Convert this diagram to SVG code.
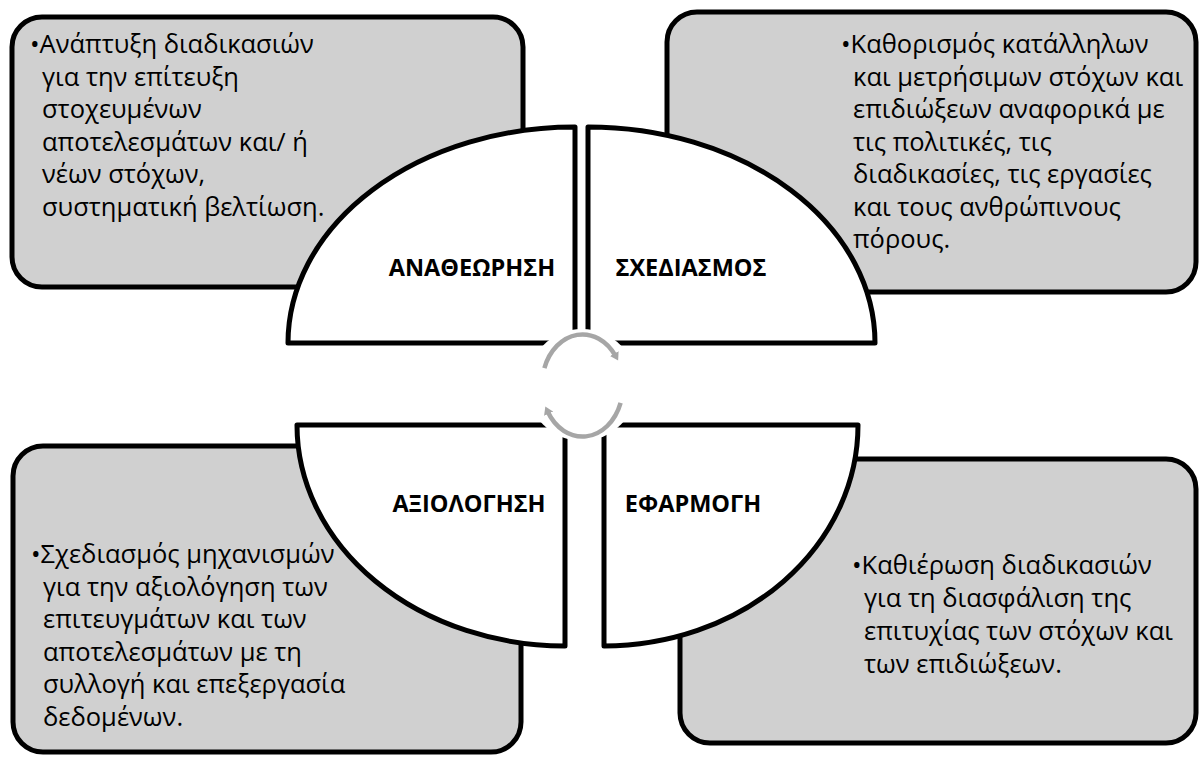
<svg xmlns="http://www.w3.org/2000/svg" width="1204" height="757" viewBox="0 0 1204 757">
<style>
.box{fill:#d0d0d0;stroke:#000;stroke-width:5;}
.quad{fill:#fff;stroke:#000;stroke-width:5;stroke-linejoin:round;}
.body{font-family:"Open Sans","Noto Sans",sans-serif;font-size:25.5px;fill:#000;}
.lbl{font-family:"Open Sans","Noto Sans",sans-serif;font-size:23.5px;font-weight:bold;fill:#000;text-anchor:middle;}
.ring{fill:none;stroke:#a6a6a6;stroke-width:4.5;}
</style>
<defs>
<marker id="ah" markerWidth="10" markerHeight="10" refX="3" refY="5" orient="auto" markerUnits="userSpaceOnUse">
<path d="M0,0 L8,5 L0,10 Z" fill="#a6a6a6"/>
</marker>
</defs>
<rect width="1204" height="757" fill="#fff"/>

<g id="box-tl">
<rect class="box" x="12" y="17" width="511" height="270" rx="30"/>
<text class="body"><tspan x="30" y="53">•Ανάπτυξη διαδικασιών</tspan><tspan x="42" y="85.5">για την επίτευξη</tspan><tspan x="42" y="118">στοχευμένων</tspan><tspan x="42" y="150.5">αποτελεσμάτων και/ ή</tspan><tspan x="42" y="183">νέων στόχων,</tspan><tspan x="42" y="215.5">συστηματική βελτίωση.</tspan></text>
</g>
<g id="box-tr">
<rect class="box" x="667" y="12" width="529" height="280" rx="30"/>
<text class="body"><tspan x="841" y="53">•Καθορισμός κατάλληλων</tspan><tspan x="853" y="85.5">και μετρήσιμων στόχων και</tspan><tspan x="853" y="118">επιδιώξεων αναφορικά με</tspan><tspan x="853" y="150.5">τις πολιτικές, τις</tspan><tspan x="853" y="183">διαδικασίες, τις εργασίες</tspan><tspan x="853" y="215.5">και τους ανθρώπινους</tspan><tspan x="853" y="248">πόρους.</tspan></text>
</g>
<g id="box-bl">
<rect class="box" x="13" y="446" width="508" height="306" rx="30"/>
<text class="body"><tspan x="31" y="563">•Σχεδιασμός μηχανισμών</tspan><tspan x="43" y="595.5">για την αξιολόγηση των</tspan><tspan x="43" y="628">επιτευγμάτων και των</tspan><tspan x="43" y="660.5">αποτελεσμάτων με τη</tspan><tspan x="43" y="693">συλλογή και επεξεργασία</tspan><tspan x="43" y="725.5">δεδομένων.</tspan></text>
</g>
<g id="box-br">
<rect class="box" x="680" y="459" width="516" height="284" rx="30"/>
<text class="body"><tspan x="852" y="574">•Καθιέρωση διαδικασιών</tspan><tspan x="864" y="607">για τη διασφάλιση της</tspan><tspan x="864" y="640">επιτυχίας των στόχων και</tspan><tspan x="864" y="673">των επιδιώξεων.</tspan></text>
</g>

<g id="quad-review">
<path class="quad" d="M575,127 L575,343 L288,343 A287,216 0 0 1 575,127 Z"/>
<text class="lbl" x="472" y="276">ΑΝΑΘΕΩΡΗΣΗ</text>
</g>
<g id="quad-plan">
<path class="quad" d="M588,127 A287,216 0 0 1 875,343 L588,343 Z"/>
<text class="lbl" x="691" y="276">ΣΧΕΔΙΑΣΜΟΣ</text>
</g>
<g id="quad-eval">
<path class="quad" d="M297,425 L565,425 L565,646 A268,221 0 0 1 297,425 Z"/>
<text class="lbl" x="469" y="512">ΑΞΙΟΛΟΓΗΣΗ</text>
</g>
<g id="quad-impl">
<path class="quad" d="M604,425 L858,425 A254,221 0 0 1 604,646 Z"/>
<text class="lbl" x="693" y="512">ΕΦΑΡΜΟΓΗ</text>
</g>

<g id="connectors">
<ellipse cx="582" cy="385" rx="55" ry="56" fill="#fff"/>
<path class="ring" d="M544.4,368.1 A40.5,51 0 0 1 615.7,356.2" marker-end="url(#ah)"/>
<path class="ring" d="M620.6,402.9 A40.5,51 0 0 1 547.4,411" marker-end="url(#ah)"/>
</g>
</svg>
